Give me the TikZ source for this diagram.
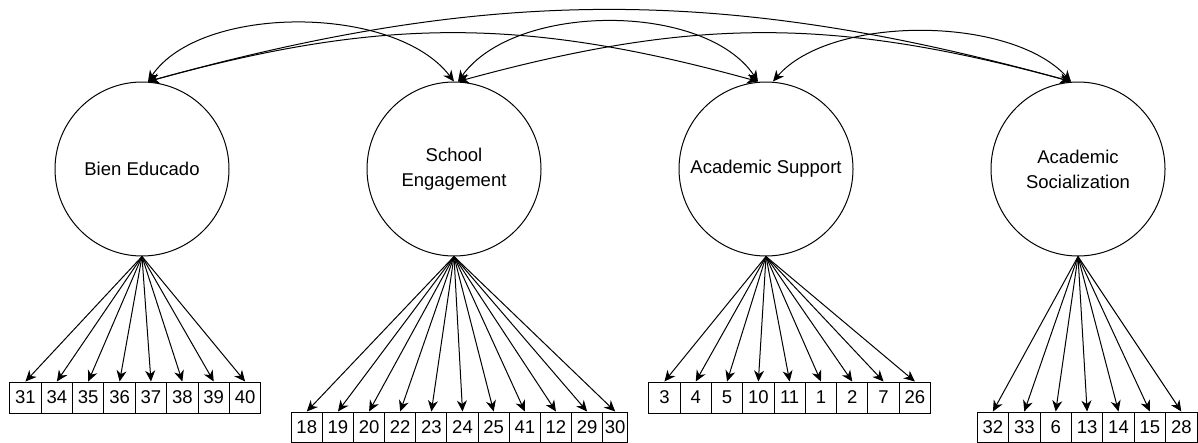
\documentclass[tikz,border=0pt]{standalone}
\usepackage{fontspec}
\setmainfont{Liberation Sans}
\usetikzlibrary{arrows.meta}
\begin{document}
\begin{tikzpicture}[x=1pt,y=-1pt,
  latent/.style={circle, draw, line width=1pt, minimum size=174pt, inner sep=0pt,
    align=center, font=\fontsize{18.5}{25}\selectfont},
  item/.style={draw, line width=1pt, inner sep=0pt, anchor=north west,
    font=\fontsize{18.5}{22}\selectfont},
  tipa/.tip={Stealth[length=11pt,width=10pt,inset=3.5pt]},
  load/.style={-tipa, line width=1pt},
  cov/.style={tipa-tipa, line width=1pt},
]
\useasboundingbox (0,0) rectangle (1198,442);

% latent factors
\node[latent] (be)   at (142,169)  {Bien Educado};
\node[latent] (se)   at (454,169)  {School\\Engagement};
\node[latent] (as)   at (766,169)  {Academic Support};
\node[latent] (asoc) at (1078,169) {Academic\\Socialization};

% indicators of Bien Educado
\foreach \t [count=\i] in {31,34,35,36,37,38,39,40}
  \node[item, minimum width=31.375pt, minimum height=31pt] (a\i)
    at ({9.3+(\i-1)*31.375},381.5) {\t};
\foreach \i in {1,...,8} \draw[load] (be.south) -- (a\i.north);

% indicators of School Engagement
\foreach \t [count=\i] in {18,19,20,22,23,24,25,41,12,29}
  \node[item, minimum width=31.15pt, minimum height=30pt] (b\i)
    at ({290.7+(\i-1)*31.15},411.5) {\t};
\node[item, minimum width=25pt, minimum height=30pt] (b11) at (602.2,411.5) {30};
\foreach \i in {1,...,11} \draw[load] (se.south) -- (b\i.north);

% indicators of Academic Support
\foreach \t [count=\i] in {3,4,5,10,11,1,2,7,26}
  \node[item, minimum width=31.3pt, minimum height=31pt] (c\i)
    at ({648.3+(\i-1)*31.3},381.5) {\t};
\foreach \i in {1,...,9} \draw[load] (as.south) -- (c\i.north);

% indicators of Academic Socialization
\foreach \t [count=\i] in {32,33,6,13,14,15,28}
  \node[item, minimum width=31.4pt, minimum height=30pt] (d\i)
    at ({976.7+(\i-1)*31.4},411.5) {\t};
\foreach \i in {1,...,7} \draw[load] (asoc.south) -- (d\i.north);

% covariances between the factors
\draw[cov] ([xshift=6pt]be.north) .. controls (200,4) and (395,4) .. ([xshift=0pt]se.north);
\draw[cov] ([xshift=4pt]se.north) .. controls (515,2) and (705,2) .. ([xshift=-8pt]as.north);
\draw[cov] ([xshift=7pt]as.north) .. controls (830,15) and (1010,15) .. ([xshift=-7pt]asoc.north);
\draw[cov] ([xshift=6pt]be.north) .. controls (382,17) and (524,17) .. ([xshift=-8pt]as.north);
\draw[cov] ([xshift=6pt]be.north) .. controls (492,-14) and (726,-14) .. ([xshift=-7pt]asoc.north);
\draw[cov] ([xshift=4pt]se.north) .. controls (694,17) and (834,17) .. ([xshift=-7pt]asoc.north);
\end{tikzpicture}
\end{document}
